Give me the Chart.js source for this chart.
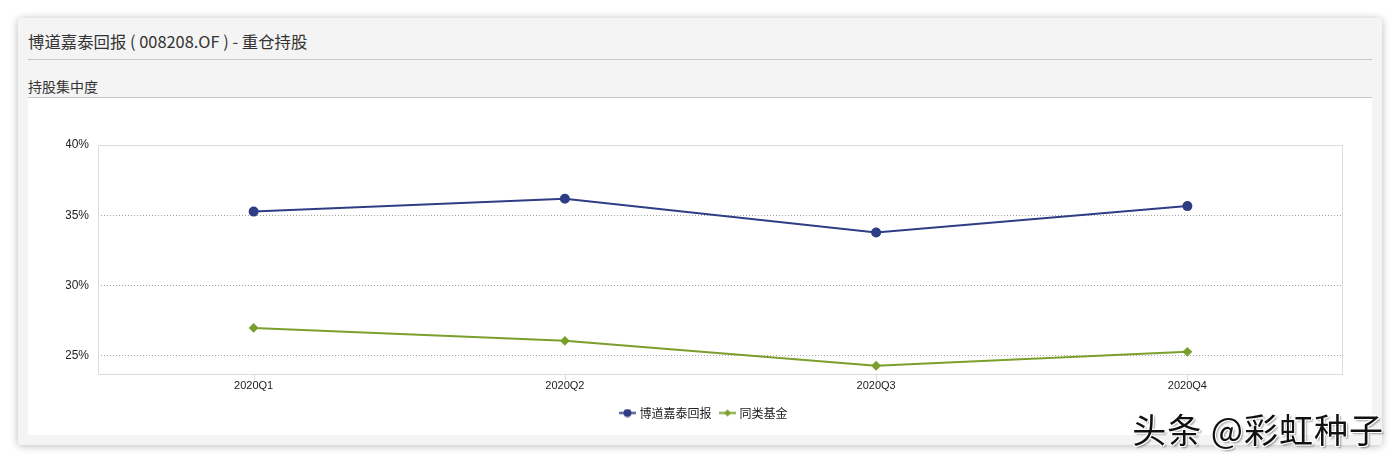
<!DOCTYPE html>
<html>
<head>
<meta charset="utf-8">
<script src="https://cdn.jsdelivr.net/npm/chart.js@4"></script>
<style>
  html, body { margin: 0; padding: 0; background: #fff; }
  body { width: 1400px; height: 464px; position: relative; overflow: hidden;
         font-family: "Noto Sans CJK SC", "Noto Sans", sans-serif; }
  .card { position: absolute; left: 18px; top: 18px; width: 1364px; height: 427px;
          background: #f4f4f4; border-radius: 4px;
          box-shadow: 0 1px 8px rgba(0,0,0,0.28); }
  .title { position: absolute; left: 10px; top: 11px; font-size: 16.4px; color: #333; }
  .rule1 { position: absolute; left: 10px; right: 10px; top: 41px; border-top: 1px solid #c8c8c8; }
  .sub { position: absolute; left: 10px; top: 58px; font-size: 14px; color: #333; }
  .rule2 { position: absolute; left: 10px; right: 10px; top: 79px; border-top: 1px solid #c8c8c8; }
  .graphContainer { position: absolute; left: 10px; top: 80px; width: 1344px; height: 337px; background: #fff; }
  .mark { position: absolute; right: 16px; bottom: 11px; font-size: 34px; color: #111;
          letter-spacing: 1px;
          text-shadow: 1px 1px 0 #fff, -1px -1px 0 #fff, 1px -1px 0 #fff, -1px 1px 0 #fff, 2px 2px 2px rgba(0,0,0,0.4); }
</style>
</head>
<body>
<div class="card">
  <div class="title">博道嘉泰回报 ( 008208.OF ) - 重仓持股</div>
  <div class="rule1"></div>
  <div class="sub">持股集中度</div>
  <div class="rule2"></div>
  <div class="graphContainer">
    <canvas id="myChart" width="1344" height="337"></canvas>
  </div>
</div>
<div class="mark">头条 @彩虹种子</div>
<script>
const labels = ["2020Q1", "2020Q2", "2020Q3", "2020Q4"];
const fundData = [35.26, 36.18, 33.77, 35.65];
const peerData = [26.98, 26.06, 24.29, 25.28];
const yTicks = [25, 30, 35, 40];

const blue = "#2e3d84";
const green = "#7a9f2c";

// legend icon: short line with the series marker in the middle
function legendIcon(color, diamond) {
    const c = document.createElement("canvas");
    c.width = 17; c.height = 9;
    const g = c.getContext("2d");
    g.strokeStyle = color; g.fillStyle = color; g.lineWidth = 2;
    g.beginPath(); g.moveTo(0, 4.5); g.lineTo(17, 4.5); g.stroke();
    g.beginPath();
    if (diamond) {
        g.moveTo(8.5, 1); g.lineTo(12, 4.5); g.lineTo(8.5, 8); g.lineTo(5, 4.5); g.closePath();
    } else {
        g.arc(8.5, 4.5, 4, 0, Math.PI * 2);
    }
    g.fill();
    return c;
}

// light frame round the plot area plus small tick marks under each category
const frame = {
    id: "frame",
    beforeDatasetsDraw(chart) {
        const { ctx, chartArea: a, scales } = chart;
        ctx.save();
        ctx.strokeStyle = "#dcdcdc";
        ctx.lineWidth = 1;
        ctx.strokeRect(a.left + 0.5, a.top + 0.5, a.right - a.left - 1, a.bottom - a.top);
        ctx.beginPath();
        labels.forEach((l, i) => {
            const x = Math.round(scales.x.getPixelForValue(i)) + 0.5;
            ctx.moveTo(x, a.bottom);
            ctx.lineTo(x, a.bottom + 6);
        });
        ctx.stroke();
        ctx.restore();
    }
};

const icons = [legendIcon(blue, false), legendIcon(green, true)];

const myChartRef = document.getElementById("myChart").getContext("2d");
new Chart(myChartRef, {
    type: "line",
    data: {
        labels: labels,
        datasets: [
            {
                label: "博道嘉泰回报",
                data: fundData,
                borderColor: blue,
                backgroundColor: blue,
                borderWidth: 2,
                pointStyle: "circle",
                pointRadius: 4,
                tension: 0
            },
            {
                label: "同类基金",
                data: peerData,
                borderColor: green,
                backgroundColor: green,
                borderWidth: 2,
                pointStyle: "rectRot",
                pointRadius: 3.5,
                tension: 0
            }
        ]
    },
    options: {
        responsive: false,
        animation: false,
        layout: { padding: { top: 47, right: 29, bottom: 6, left: 38 } },
        plugins: {
            tooltip: { enabled: false },
            legend: {
                position: "bottom",
                labels: {
                    usePointStyle: true,
                    color: "#222",
                    font: { size: 12, family: "Noto Sans CJK SC" },
                    padding: 10,
                    generateLabels(chart) {
                        return chart.data.datasets.map((d, i) => ({
                            text: d.label,
                            fillStyle: d.backgroundColor,
                            strokeStyle: d.borderColor,
                            lineWidth: 0,
                            pointStyle: icons[i],
                            datasetIndex: i,
                            fontColor: "#222"
                        }));
                    }
                }
            }
        },
        scales: {
            x: {
                offset: true,
                grid: { display: false, drawTicks: false },
                border: { display: false },
                ticks: { color: "#222", font: { size: 11, family: "Liberation Sans" }, padding: 5 },
                afterFit(scale) { scale.height = 23; }
            },
            y: {
                min: 23.7,
                max: 40,
                afterBuildTicks(scale) { scale.ticks = yTicks.map(v => ({ value: v })); },
                grid: { color: "#a0a0a0", drawTicks: false, lineWidth: 1 },
                border: { display: false, dash: [1, 2] },
                ticks: {
                    color: "#222",
                    padding: 9,
                    font: { size: 12, family: "Liberation Sans" },
                    callback: v => v + "%"
                },
                afterFit(scale) { scale.width = 32; }
            }
        }
    },
    plugins: [frame]
});
</script>
</body>
</html>
